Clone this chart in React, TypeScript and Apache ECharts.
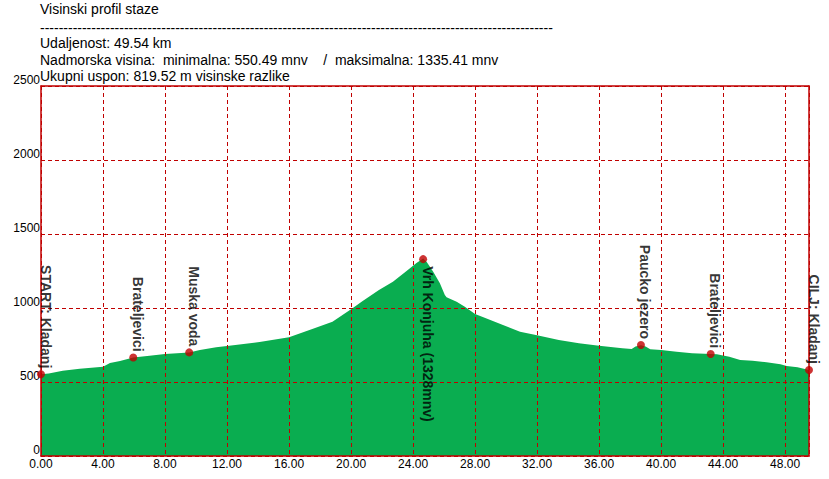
import React, { useEffect, useRef } from 'react';
import * as echarts from 'echarts';

// Elevation profile (distance in km, elevation in m)
const distKm = [0, 0.5, 1.4, 2.5, 4.0, 4.45, 5.1, 5.95, 7.0, 8.0, 9.56, 10.25, 11.3, 12.0, 14.1, 16.0, 17.5, 18.8, 20.0, 20.75, 21.8, 22.7, 23.6, 24.2, 24.65, 24.87, 25.3, 25.73, 26.05, 26.16, 26.81, 27.34, 28.0, 28.7, 29.8, 30.9, 32.0, 33.4, 34.7, 36.0, 37.5, 38.1, 38.35, 38.7, 39.0, 39.3, 40.0, 41.0, 42.0, 43.2, 43.6, 44.4, 45.1, 45.9, 46.8, 47.7, 48.1, 48.8, 49.54];
const elevM = [552, 558, 576, 590, 603, 628, 642, 665, 678, 689, 700, 716, 734, 743, 770, 802, 858, 907, 991, 1047, 1122, 1178, 1252, 1302, 1335, 1313, 1245, 1167, 1088, 1072, 1043, 1009, 959, 930, 885, 840, 816, 784, 761, 745, 728, 723, 740, 748, 740, 721, 716, 705, 694, 689, 687, 671, 649, 644, 633, 620, 608, 599, 581];

// Points of interest
const poiNames = ['START: Kladanj', 'Brateljevici', 'Muska voda', 'Vrh Konjuha (1328mnv)', 'Paucko jezero', 'Brateljevici', 'CILJ: Kladanj'];
const poiKm = [0, 5.95, 9.56, 24.65, 38.7, 43.2, 49.54];
const poiElev = [552, 665, 700, 1330, 750, 689, 581];
const poiLabelBelow = [false, false, false, true, false, false, false];

const xMax = 49.54;
const xInterval = 4;
const yMax = 2500;
const yInterval = 500;

const headerLines = [
  'Visinski profil staze',
  '-'.repeat(110),
  'Udaljenost: 49.54 km',
  'Nadmorska visina:  minimalna: 550.49 mnv    /  maksimalna: 1335.41 mnv',
  'Ukupni uspon: 819.52 m visinske razlike',
];
const headerY = [2, 21, 36, 53, 69];

const RED = '#C00000';
const GREEN = '#0AAD50';
const FONT = '"Liberation Sans", Arial, sans-serif';

const hiddenAxis = {
  type: 'value',
  axisTick: { show: false },
  axisLabel: { show: false },
  splitLine: { show: false },
  axisLine: { show: true, onZero: false, lineStyle: { color: RED, width: 1.5 } },
  z: 6,
};

export default function App() {
  const ref = useRef<HTMLDivElement>(null);
  useEffect(() => {
    document.body.style.margin = '0';
    const chart = echarts.init(ref.current!, null, { renderer: 'svg' });
    const profile = distKm.map((d, i) => [d, elevM[i]]);
    const pois = poiKm.map((d, i) => ({
      value: [d, poiElev[i]],
      name: poiNames[i],
      label: poiLabelBelow[i]
        ? { position: [8.5, 11], align: 'left', verticalAlign: 'middle' }
        : { position: [8.5, -2], align: 'right', verticalAlign: 'middle' },
    }));
    chart.setOption({
      animation: false,
      backgroundColor: '#ffffff',
      grid: {
        left: 41,
        top: 86,
        width: 768,
        height: 370,
        show: false,
      },
      xAxis: [
        {
          type: 'value',
          min: 0,
          max: xMax,
          interval: xInterval,
          axisLine: { show: true, onZero: false, lineStyle: { color: RED, width: 1.5 } },
          axisTick: { show: false },
          axisLabel: {
            color: '#000',
            fontFamily: FONT,
            fontSize: 12,
            margin: 2,
            formatter: (v: number) =>
              Math.abs(v / xInterval - Math.round(v / xInterval)) < 1e-6 ? v.toFixed(2) : '',
          },
          splitLine: { show: true, lineStyle: { color: RED, type: [4, 3], width: 1 } },
          z: 6,
        },
        { ...hiddenAxis, position: 'top', min: 0, max: xMax },
      ],
      yAxis: [
        {
          type: 'value',
          min: 0,
          max: yMax,
          interval: yInterval,
          axisLine: { show: true, onZero: false, lineStyle: { color: RED, width: 1.5 } },
          axisTick: { show: false },
          axisLabel: {
            color: '#000',
            fontFamily: FONT,
            fontSize: 12,
            margin: 1,
            verticalAlign: 'bottom',
            lineHeight: 12,
            formatter: (v: number) => String(v),
          },
          splitLine: { show: true, lineStyle: { color: RED, type: [4, 3], width: 1 } },
          z: 6,
        },
        { ...hiddenAxis, position: 'right', min: 0, max: yMax },
      ],
      graphic: headerLines.map((t, i) => ({
        type: 'text',
        left: 40,
        top: headerY[i],
        style: { text: t, fill: '#000', font: `14px ${FONT}` },
      })),
      series: [
        {
          type: 'line',
          data: profile,
          showSymbol: false,
          lineStyle: { width: 0, color: GREEN },
          areaStyle: { color: GREEN, opacity: 1 },
          z: 1,
          silent: true,
        },
        {
          type: 'scatter',
          data: pois,
          symbol: 'circle',
          symbolSize: 8,
          itemStyle: { color: RED },
          z: 10,
          label: {
            show: true,
            rotate: -90,
            formatter: '{b}',
            color: '#000',
            fontFamily: FONT,
            fontWeight: 'bold',
            fontSize: 14,
          },
        },
      ],
    });
    return () => chart.dispose();
  }, []);
  return <div ref={ref} style={{ width: 829, height: 479 }} />;
}
